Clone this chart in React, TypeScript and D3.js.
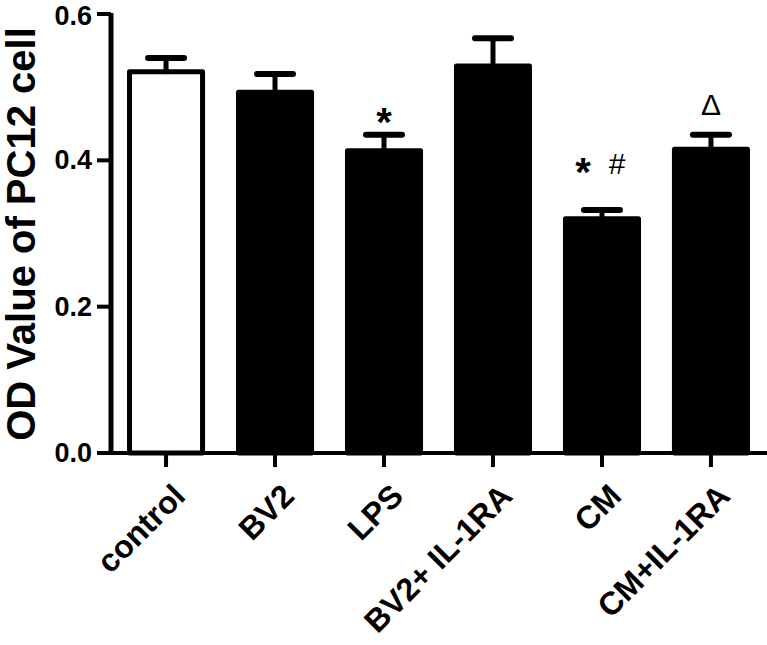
import React from "react";
import * as d3 from "d3";

const categories = ["control", "BV2", "LPS", "BV2+ IL-1RA", "CM", "CM+IL-1RA"];
const means = [0.521, 0.493, 0.413, 0.529, 0.32, 0.415];
const sems = [0.019, 0.025, 0.022, 0.038, 0.012, 0.02];
const yTicks = [0, 0.2, 0.4, 0.6];
const yTickLabels = ["0.0", "0.2", "0.4", "0.6"];
const barIsOpen = [true, false, false, false, false, false];
const marks = [
  { cat: "LPS", text: "*", value: 0.465, dx: 0, kind: "star" },
  { cat: "CM", text: "*", value: 0.396, dx: -19, kind: "star" },
  { cat: "CM", text: "#", value: 0.396, dx: 15, kind: "hash" },
  { cat: "CM+IL-1RA", text: "Δ", value: 0.477, dx: 0, kind: "delta" },
];
const yTitle = "OD Value of PC12 cell";

const W = 767;
const H = 645;
const FONT = "'Liberation Sans', Arial, Helvetica, sans-serif";

export default function App() {
  const x = d3
    .scaleBand<string>()
    .domain(categories)
    .range([111, 766])
    .paddingInner(0.284)
    .paddingOuter(0.147);
  const y = d3.scaleLinear().domain([0, 0.6]).range([453, 14]);
  const bw = x.bandwidth();
  const axisX = 111;
  const axisY = y(0);

  return (
    <svg
      width={W}
      height={H}
      viewBox={`0 0 ${W} ${H}`}
      style={{ position: "absolute", left: 0, top: 0, background: "#fff" }}
    >
      <rect x={0} y={0} width={W} height={H} fill="#fff" />
      {/* bars */}
      {categories.map((c, i) => {
        const x0 = x(c)!;
        const top = y(means[i]);
        return (
          <rect
            key={c}
            x={x0 + 2.5}
            y={top}
            width={bw - 5}
            height={axisY - top}
            fill={barIsOpen[i] ? "#fff" : "#000"}
            stroke="#000"
            strokeWidth={5}
            strokeLinejoin="round"
          />
        );
      })}
      {/* error bars */}
      {categories.map((c, i) => {
        const cx = x(c)! + bw / 2;
        const top = y(means[i]);
        const et = y(means[i] + sems[i]);
        return (
          <g key={"e" + c} stroke="#000" strokeLinecap="round">
            <line x1={cx} x2={cx} y1={top} y2={et} strokeWidth={5} />
            <line x1={cx - 18} x2={cx + 18} y1={et} y2={et} strokeWidth={6} />
          </g>
        );
      })}
      {/* y axis */}
      <line x1={axisX} x2={axisX} y1={y(0.6) - 1} y2={axisY + 2} stroke="#000" strokeWidth={5} />
      {yTicks.map((t, i) => (
        <g key={"yt" + t}>
          <line x1={97} x2={axisX} y1={y(t)} y2={y(t)} stroke="#000" strokeWidth={4} />
          <text
            x={92}
            y={Math.max(y(t), 16)}
            textAnchor="end"
            dominantBaseline="central"
            fontFamily={FONT}
            fontWeight="bold"
            fontSize={27}
            fill="#000"
          >
            {yTickLabels[i]}
          </text>
        </g>
      ))}
      {/* x axis */}
      <line x1={97} x2={767} y1={axisY} y2={axisY} stroke="#000" strokeWidth={4} />
      {categories.map((c) => {
        const cx = x(c)! + bw / 2;
        return (
          <g key={"xt" + c}>
            <line x1={cx} x2={cx} y1={axisY} y2={axisY + 14} stroke="#000" strokeWidth={4} />
            <text
              transform={`translate(${cx + 21},${498}) rotate(-45)`}
              textAnchor="end"
              fontFamily={FONT}
              fontWeight="bold"
              fontSize={32}
              fill="#000"
            >
              {c}
            </text>
          </g>
        );
      })}
      {/* y title */}
      <text
        transform={`translate(${35},${234}) rotate(-90)`}
        textAnchor="middle"
        fontFamily={FONT}
        fontWeight="bold"
        fontSize={40}
        fill="#000"
      >
        {yTitle}
      </text>
      {/* significance marks */}
      {marks.map((m, i) => {
        const cx = x(m.cat)! + bw / 2 + m.dx;
        const cy = y(m.value);
        const size = m.kind === "star" ? 40 : 30;
        const off = m.kind === "star" ? 0.57 * size : 0.36 * size;
        return (
          <text
            key={"m" + i}
            x={cx}
            y={cy + off}
            textAnchor="middle"
            fontFamily={FONT}
            fontWeight={m.kind === "star" ? "bold" : "normal"}
            fontSize={size}
            fill="#000"
          >
            {m.text}
          </text>
        );
      })}
    </svg>
  );
}
